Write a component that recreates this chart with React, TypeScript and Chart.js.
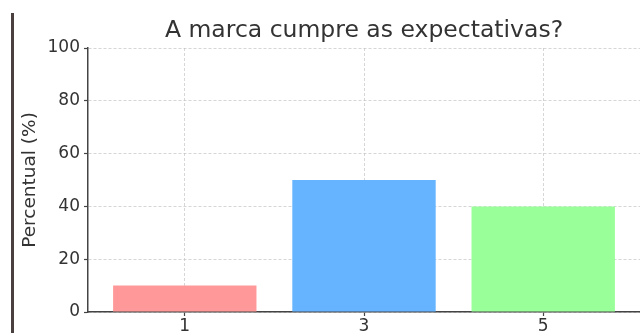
import React, { useEffect, useRef } from "react";
import { Chart, registerables } from "chart.js";

Chart.register(...registerables);

const categories = ["1", "3", "5"];
const values = [10, 50, 40];
const barColors = ["#ff9999", "#66b3ff", "#99ff99"];
const yTicks = [0, 20, 40, 60, 80, 100];
const titleText = "A marca cumpre as expectativas?";
const yLabel = "Percentual (%)";

const FONT = "'DejaVu Sans', sans-serif";

const centeredTitle = {
  id: "centeredTitle",
  afterDraw(chart: any) {
    const { ctx, chartArea } = chart;
    ctx.save();
    ctx.fillStyle = "#333333";
    ctx.font = `23.5px ${FONT}`;
    ctx.textAlign = "center";
    ctx.textBaseline = "alphabetic";
    ctx.fillText(titleText, (chartArea.left + chartArea.right) / 2, 37);
    ctx.restore();
  },
};

export default function App() {
  const ref = useRef<HTMLCanvasElement | null>(null);

  useEffect(() => {
    if (!ref.current) return;
    const gridColor = "rgba(190,190,190,0.8)";
    const chart = new Chart(ref.current, {
      type: "bar",
      data: {
        datasets: [
          {
            data: values.map((v, i) => ({ x: i, y: v })),
            backgroundColor: barColors,
            borderWidth: 0,
            barPercentage: 1,
            categoryPercentage: 0.8,
          },
        ],
      },
      options: {
        animation: false,
        responsive: false,
        maintainAspectRatio: false,
        layout: { padding: { top: 48, left: 0, right: 0, bottom: 0 } },
        plugins: {
          legend: { display: false },
          tooltip: { enabled: false },
          title: { display: false },
        },
        scales: {
          x: {
            type: "linear",
            min: -0.54,
            max: 2.54,
            offset: false,
            z: 1,
            afterBuildTicks: (scale: any) => {
              scale.ticks = categories.map((_, i) => ({ value: i }));
            },
            afterFit: (scale: any) => {
              scale.height = 21;
            },
            ticks: {
              callback: (v: any) => categories[v] ?? "",
              color: "#333333",
              font: { family: FONT, size: 17 },
              padding: 0,
              maxRotation: 0,
            },
            grid: {
              offset: false,
              color: gridColor,
              lineWidth: 0.8,
              tickColor: "#444444",
              tickLength: 4,
              tickWidth: 1.2,
              tickBorderDash: [],
            } as any,
            border: { display: true, color: "#444444", width: 1.5, dash: [3, 2] } as any,
          },
          y: {
            min: 0,
            max: 100,
            z: 1,
            afterBuildTicks: (scale: any) => {
              scale.ticks = yTicks.map((v) => ({ value: v }));
            },
            afterFit: (scale: any) => {
              scale.width = 88;
            },
            ticks: {
              color: "#333333",
              font: { family: FONT, size: 17 },
              padding: 4,
            },
            grid: {
              color: gridColor,
              lineWidth: 0.8,
              tickColor: "#444444",
              tickLength: 4,
              tickWidth: 1.2,
              tickBorderDash: [],
            } as any,
            border: { display: true, color: "#444444", width: 1.5, dash: [3, 2] } as any,
            title: {
              display: true,
              text: yLabel,
              color: "#333333",
              font: { family: FONT, size: 18.5 },
              padding: { top: 19, bottom: 0 },
            },
          },
        },
      } as any,
      plugins: [centeredTitle],
    });
    return () => chart.destroy();
  }, []);

  return (
    <div
      style={{
        position: "absolute",
        left: 0,
        top: 0,
        width: 640,
        height: 333,
        background: "#ffffff",
        overflow: "hidden",
      }}
    >
      <div
        style={{
          position: "absolute",
          left: 11,
          top: 13,
          width: 3,
          height: 320,
          background: "#4a4040",
        }}
      />
      <canvas ref={ref} width={640} height={333} style={{ display: "block" }} />
    </div>
  );
}
